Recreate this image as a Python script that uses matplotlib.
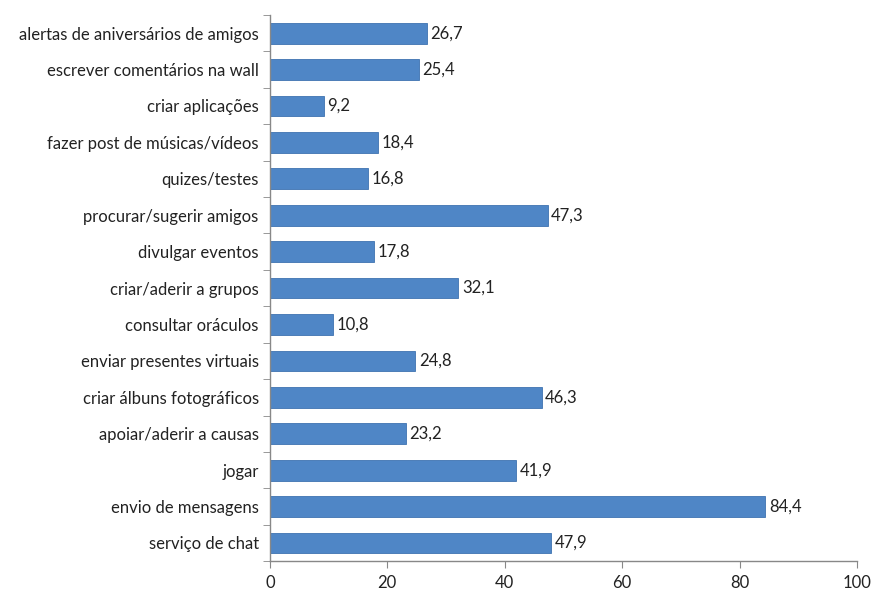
import matplotlib
matplotlib.use('Agg')
import matplotlib.pyplot as plt
import numpy as np

# Activities (top to bottom as in the chart) and percentages
categories = [
    'alertas de aniversários de amigos',
    'escrever comentários na wall',
    'criar aplicações',
    'fazer post de músicas/vídeos',
    'quizes/testes',
    'procurar/sugerir amigos',
    'divulgar eventos',
    'criar/aderir a grupos',
    'consultar oráculos',
    'enviar presentes virtuais',
    'criar álbuns fotográficos',
    'apoiar/aderir a causas',
    'jogar',
    'envio de mensagens',
    'serviço de chat',
]
values = [26.7, 25.4, 9.2, 18.4, 16.8, 47.3, 17.8, 32.1, 10.8, 24.8, 46.3, 23.2, 41.9, 84.4, 47.9]
xticks = [0, 20, 40, 60, 80, 100]

plt.rcParams['font.family'] = ['Lato', 'DejaVu Sans']
fs = 12

fig = plt.figure(figsize=(8.79, 5.97), dpi=100, facecolor='white')
ax = fig.add_axes([0.307, 0.06, 0.668, 0.915])

n = len(categories)
y = np.arange(n)[::-1]
ax.barh(y, values, height=0.57, color='#4f86c6', edgecolor='#3f73b0', linewidth=0.6)

for yi, v in zip(y, values):
    ax.text(v + 0.6, yi, f'{v:.1f}'.replace('.', ','), va='center', ha='left',
            fontsize=fs, color='#222222')

ax.set_xlim(0, 100)
ax.set_ylim(-0.5, n - 0.5)
ax.set_xticks(xticks)
ax.set_xticklabels([str(t) for t in xticks], fontsize=fs, color='#222222')

# category labels at bar centres, tick marks at slot boundaries
ax.set_yticks(y)
ax.set_yticklabels(categories, fontsize=fs, color='#222222')
ax.tick_params(axis='y', which='major', length=0, pad=8)
ax.set_yticks(np.arange(-0.5, n, 1.0), minor=True)
ax.tick_params(axis='y', which='minor', length=5, color='#888888', direction='out')
ax.tick_params(axis='x', length=5, color='#888888', direction='out', pad=5)

for s in ['top', 'right']:
    ax.spines[s].set_visible(False)
for s in ['left', 'bottom']:
    ax.spines[s].set_color('#888888')
    ax.spines[s].set_linewidth(1.0)

plt.savefig('out.png', dpi=100, facecolor='white')
plt.close()
